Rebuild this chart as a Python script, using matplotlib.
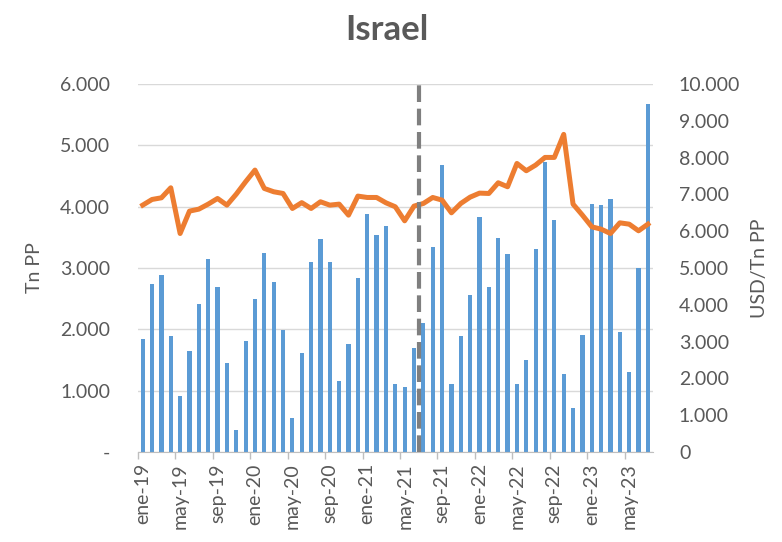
import matplotlib
matplotlib.use("Agg")
import matplotlib.pyplot as plt
import numpy as np

plt.rcParams['font.family'] = ['Lato', 'DejaVu Sans']

# monthly data, ene-19 .. jul-23
meses = ["ene", "feb", "mar", "abr", "may", "jun", "jul", "ago", "sep", "oct", "nov", "dic"]
fechas = []
for anio in range(19, 24):
    for m in meses:
        fechas.append(m + "-" + str(anio))
fechas = fechas[:55]

tn_pp = [1839, 2736, 2883, 1888, 919, 1643, 2421, 3144, 2687, 1447, 354, 1812,
         2492, 3242, 2764, 1986, 549, 1621, 3101, 3465, 3101, 1159, 1768, 2834,
         3879, 3536, 3683, 1110, 1061, 1697, 2100, 3345, 4678, 1110, 1888, 2567,
         3835, 2687, 3487, 3226, 1110, 1496, 3318, 4727, 3781, 1278, 718, 1909,
         4042, 4020, 4123, 1958, 1300, 2997, 5674]

usd_tn = [6709, 6863, 6908, 7180, 5938, 6546, 6600, 6736, 6890, 6709, 7008, 7344,
          7661, 7162, 7072, 7026, 6618, 6777, 6618, 6800, 6709, 6736, 6437, 6954,
          6917, 6917, 6772, 6664, 6283, 6682, 6754, 6917, 6845, 6500, 6754, 6926,
          7035, 7026, 7316, 7208, 7842, 7643, 7797, 8005, 8005, 8631, 6736, 6437,
          6120, 6056, 5938, 6228, 6192, 6011, 6192]

corte = 29.5  # between jun-21 and jul-21

gris = "#595959"
x = np.arange(len(fechas))

fig = plt.figure(figsize=(7.82, 5.42), dpi=100)
ax = fig.add_axes([0.1765, 0.166, 0.658, 0.679])
ax2 = ax.twinx()

ax.bar(x, tn_pp, width=0.45, color="#5B9BD5", zorder=2)
ax2.plot(x, usd_tn, color="#ED7D31", lw=3.6, solid_joinstyle="round", zorder=3)
ax2.axvline(corte, color="#7F7F7F", lw=3, ls=(0, (4, 1.6)), zorder=4)

ax.set_xlim(-0.5, len(fechas) - 0.5)
ax.set_ylim(0, 6000)
ax2.set_ylim(0, 10000)

ax.set_yticks(range(0, 6001, 1000))
ax.set_yticklabels(["-"] + ["{:.3f}".format(v / 1000) for v in range(1000, 6001, 1000)])
ax2.set_yticks(range(0, 10001, 1000))
ax2.set_yticklabels(["0"] + ["{:.3f}".format(v / 1000) for v in range(1000, 10001, 1000)])

ax.yaxis.grid(True, color="#D9D9D9", lw=1)
ax.set_axisbelow(True)

ax.set_xticks(x[::4])
ax.set_xticklabels(fechas[::4], rotation=90)
ax.set_xticks(np.arange(-0.5, len(fechas), 4), minor=True)
ax.tick_params(axis="x", which="major", length=0, pad=8, labelsize=14, labelcolor=gris)
ax.tick_params(axis="x", which="minor", length=5, color="#BFBFBF", width=1)
ax.tick_params(axis="y", length=0, pad=20, labelsize=14, labelcolor=gris)
ax2.tick_params(axis="y", length=0, pad=19, labelsize=14, labelcolor=gris)

for a in (ax, ax2):
    for s in ("top", "left", "right", "bottom"):
        a.spines[s].set_visible(False)
ax.spines["bottom"].set_visible(True)
ax.spines["bottom"].set_color("#BFBFBF")

ax.set_ylabel("Tn PP", fontsize=14, color=gris, labelpad=12)
ax2.set_ylabel("USD/Tn PP", fontsize=14, color=gris, labelpad=8)

fig.text(0.495, 0.945, "Israel", ha="center", va="center", fontsize=25,
         fontweight="bold", color=gris)

fig.savefig("out.png", dpi=100)
